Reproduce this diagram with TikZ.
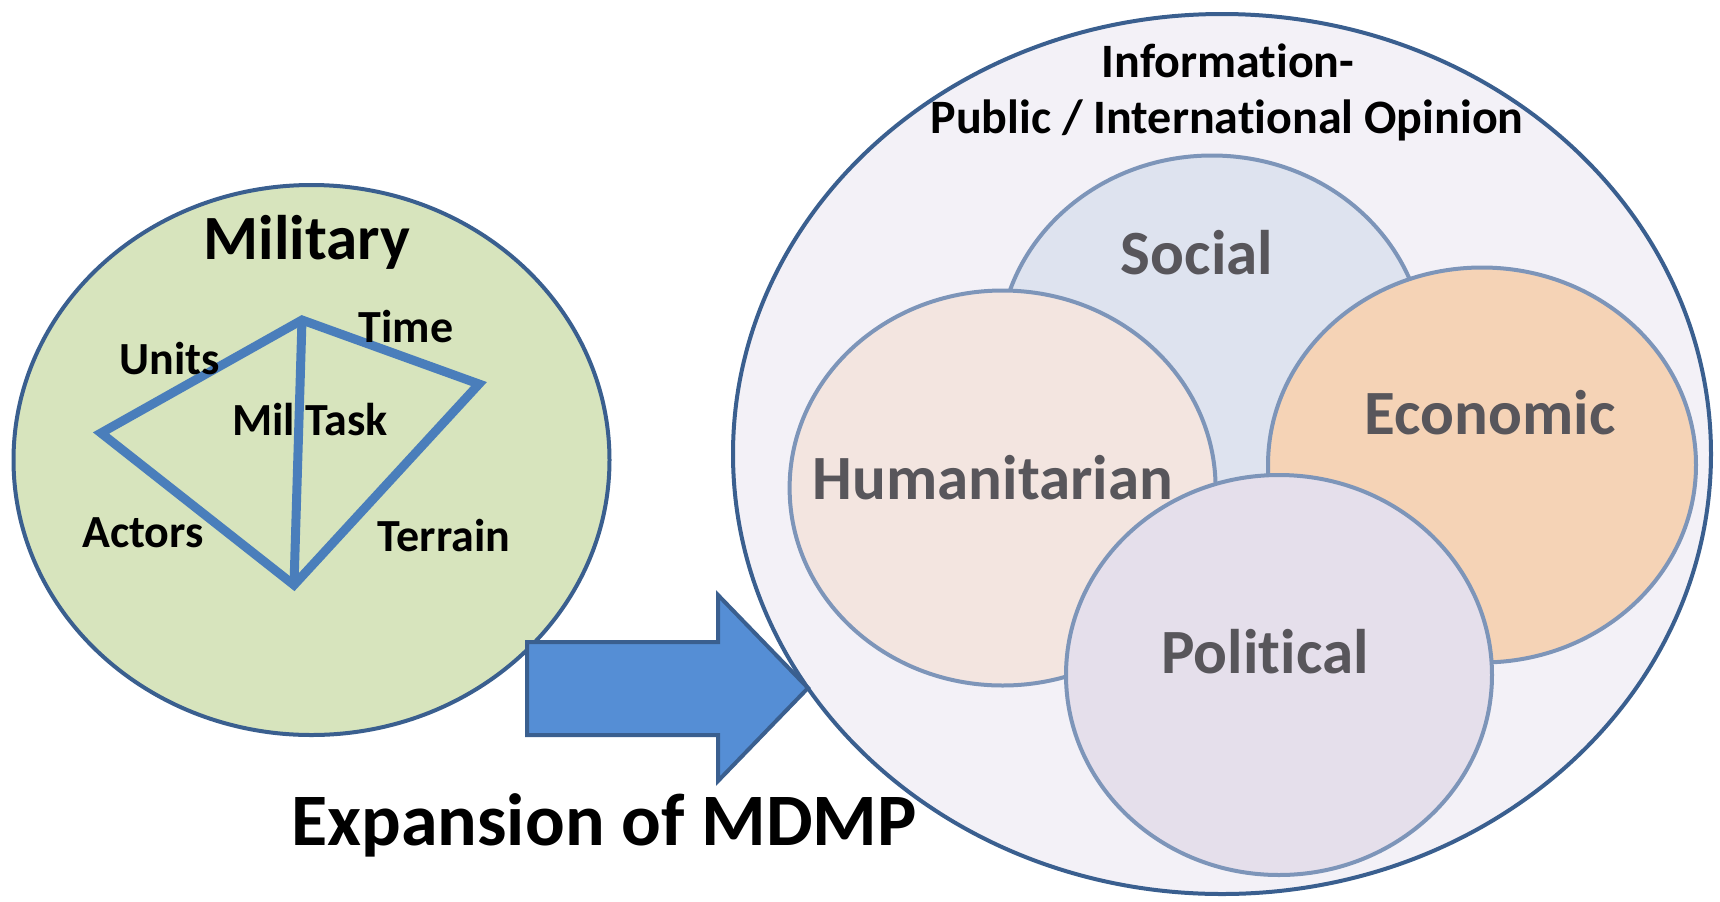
\documentclass[tikz,border=0pt]{standalone}
\usepackage{fontspec}
\setmainfont{Carlito}[Ligatures=NoCommon]
\usetikzlibrary{shapes.geometric}

\definecolor{milgreen}{HTML}{D7E4BD}
\definecolor{darkblue}{HTML}{3A5F8F}
\definecolor{lineblue}{HTML}{4A7EBB}
\definecolor{arrowblue}{HTML}{558ED5}
\definecolor{outerfill}{HTML}{F3F1F7}
\definecolor{innerline}{HTML}{7D95B9}
\definecolor{socialfill}{HTML}{DEE3EF}
\definecolor{humfill}{HTML}{F3E5E0}
\definecolor{econfill}{HTML}{F5D3B6}
\definecolor{polfill}{HTML}{E5DFEB}
\definecolor{labelgray}{HTML}{58565B}

\tikzset{
	sphere/.style={shape=ellipse, draw=innerline, line width=2pt, inner sep=0pt},
	minor/.style={font=\fontsize{23}{26}\selectfont\bfseries, anchor=base},
	major/.style={font=\fontsize{31.5}{36}\selectfont\bfseries, text=labelgray, anchor=base},
}

\begin{document}
\begin{tikzpicture}[x=0.5pt, y=-0.5pt]
	\useasboundingbox (0,0) rectangle (1720,901);
	
	
	\node[shape=ellipse, draw=darkblue, fill=milgreen, line width=2pt, inner sep=0pt, minimum width=298pt, minimum height=275pt] (mil) at (311.5, 460)   {};
	\node[font=\fontsize{31.5}{36}\selectfont\bfseries, anchor=base] (miltitle) at (307, 259)   {Military};
	
	
	\coordinate (top) at (302, 320);
	\coordinate (left) at (101, 433);
	\coordinate (right) at (479, 384);
	\coordinate (bottom) at (294, 585);
	
	\draw[lineblue, line width=4.5pt] (top) -- (right) -- (bottom) -- (left) -- cycle;
	\draw[lineblue, line width=4.5pt] (top) -- (bottom);
	
	\node[minor] (units) at (170, 374)   {Units};
	\node[minor] (time) at (406, 342)   {Time};
	\node[minor] (task) at (310, 435)   {Mil Task};
	\node[minor] (actors) at (143, 547)   {Actors};
	\node[minor] (terrain) at (444, 551)   {Terrain};
	
	
	\node[shape=ellipse, draw=darkblue, fill=outerfill, line width=2pt, inner sep=0pt, minimum width=489pt, minimum height=440pt] (world) at (1222, 454)   {};
	\node[font=\fontsize{24}{28}\selectfont\bfseries, anchor=base] (info) at (1228, 77)   {Information-};
	\node[font=\fontsize{24}{28}\selectfont\bfseries, anchor=base] (opinion) at (1227, 133)   {Public / International Opinion};
	
	\node[sphere, fill=socialfill, minimum width=213pt, minimum height=197.5pt] (social) at (1212, 353)   {};
	\node[sphere, fill=humfill, minimum width=213pt, minimum height=197.5pt] (hum) at (1002.6, 488)   {};
	\node[sphere, fill=econfill, minimum width=214pt, minimum height=197.5pt] (econ) at (1482, 465)   {};
	\node[sphere, fill=polfill, minimum width=213pt, minimum height=200pt] (pol) at (1279, 675)   {};
	
	\node[major] (sociallabel) at (1197, 274)   {Social};
	\node[major] (econlabel) at (1490, 434)   {Economic};
	\node[major] (humlabel) at (993, 499)   {Humanitarian};
	\node[major] (pollabel) at (1265, 673)   {Political};
	
	
	%\path[->, thick] (mil) edge (world);
	\draw[darkblue, fill=arrowblue, line width=2pt] (527, 642) -- (718, 642) -- (718, 595) -- (808, 688) -- (718, 781) -- (718, 735) -- (527, 735) -- cycle;
	\node[font=\fontsize{37}{42}\selectfont\bfseries, anchor=base] (expansion) at (604, 845)   {Expansion of MDMP};
	
	
\end{tikzpicture}
\end{document}
